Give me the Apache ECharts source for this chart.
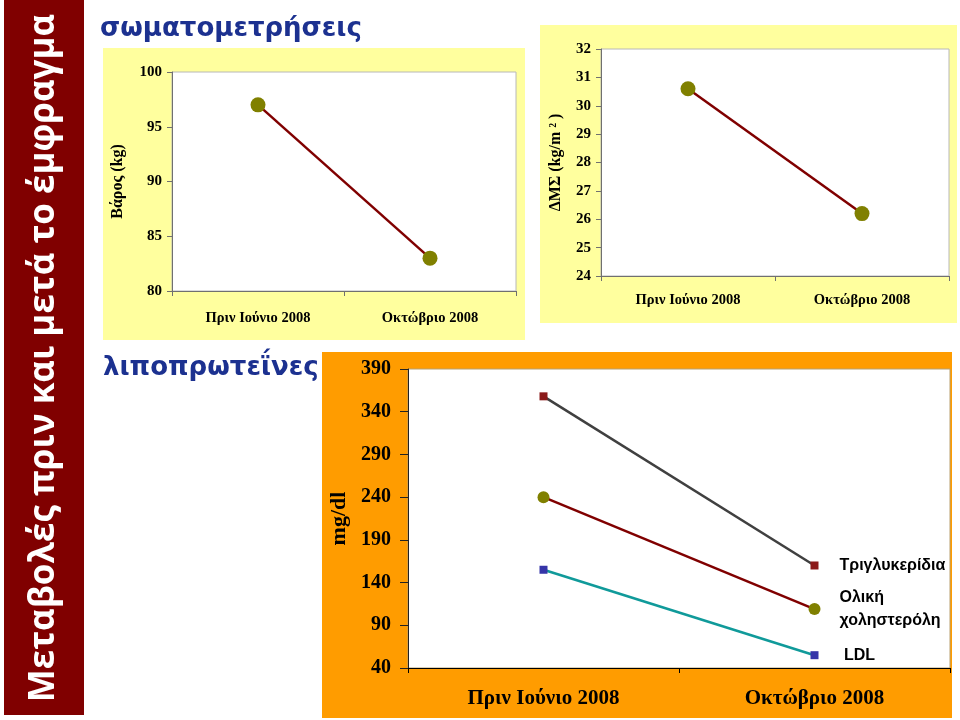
<!DOCTYPE html>
<html><head><meta charset="utf-8">
<script src="https://cdn.jsdelivr.net/npm/echarts@6/dist/echarts.min.js"></script>
<style>html,body{margin:0;padding:0;background:#fff}#c{width:960px;height:720px}</style>
</head><body><div id="c"></div>
<script>
// ---- data ----
const categories = ['Πριν Ιούνιο 2008', 'Οκτώβριο 2008'];
const weight = [97, 83];          // Βάρος (kg)
const bmi = [30.6, 26.2];         // ΔΜΣ (kg/m²)
const triglycerides = [358, 160]; // mg/dl
const totalChol = [240, 109];
const ldl = [155, 55];
const seriesNames = ['Τριγλυκερίδια', 'Ολική\nχοληστερόλη', ' LDL'];

const serif = 'Liberation Serif';
const chart = echarts.init(document.getElementById('c'), null, {renderer: 'canvas'});

function yAx(gi, min, max, interval, name, nameGap, fs, nfs, axisColor, labelMargin, tickLen) {
  return {
    type: 'value', gridIndex: gi, min: min, max: max, interval: interval,
    name: name, nameLocation: 'middle', nameGap: nameGap,
    nameTextStyle: {fontFamily: serif, fontWeight: 'bold', fontSize: nfs, color: '#000'},
    axisLine: {show: true, lineStyle: {color: axisColor, width: 1}},
    axisTick: {show: true, length: tickLen, lineStyle: {color: axisColor}},
    splitLine: {show: false},
    axisLabel: {fontFamily: serif, fontWeight: 'bold', fontSize: fs, color: '#000', margin: labelMargin}
  };
}
function xAx(gi, fs, axisColor, margin) {
  return {
    type: 'category', gridIndex: gi, data: categories, boundaryGap: true,
    axisLine: {show: true, lineStyle: {color: axisColor, width: 1}},
    axisTick: {show: true, length: 5, lineStyle: {color: axisColor}},
    axisLabel: {fontFamily: serif, fontWeight: 'bold', fontSize: fs, color: '#000', margin: margin}
  };
}
const endLbl = (txt, extra) => Object.assign({show: true, formatter: txt, distance: 25, fontFamily: 'Liberation Sans',
  fontWeight: 'bold', fontSize: 16, lineHeight: 23, color: '#000', verticalAlign: 'middle'}, extra || {});

const option = {
  animation: false,
  graphic: [
    {type: 'rect', z: -10, shape: {x: 4, y: 0, width: 80, height: 715}, style: {fill: '#800000'}},
    {type: 'rect', z: -10, shape: {x: 103, y: 48, width: 422, height: 292}, style: {fill: '#FFFF9E'}},
    {type: 'rect', z: -10, shape: {x: 540, y: 25, width: 417, height: 298}, style: {fill: '#FFFF9E'}},
    {type: 'rect', z: -10, shape: {x: 322, y: 352, width: 630, height: 366}, style: {fill: '#FF9C00'}},
    {type: 'text', z: 100, x: 44, y: 358, rotation: Math.PI / 2,
      style: {text: 'Μεταβολές πριν και μετά το έμφραγμα', fill: '#fff', font: 'bold 35px "Open Sans"', textAlign: 'center', textVerticalAlign: 'middle'}},
    {type: 'text', z: 100, x: 100, y: 29,
      style: {text: 'σωματομετρήσεις', fill: '#1c3190', font: 'bold 26px "DejaVu Sans"', textAlign: 'left', textVerticalAlign: 'middle'}},
    {type: 'text', z: 100, x: 103, y: 368,
      style: {text: 'λιποπρωτεΐνες', fill: '#1c3190', font: 'bold 26px "DejaVu Sans"', textAlign: 'left', textVerticalAlign: 'middle'}}
  ],
  grid: [
    {left: 172, top: 72, width: 344, height: 219, show: true, backgroundColor: '#fff', borderColor: '#b8b8b8', borderWidth: 1},
    {left: 601, top: 49, width: 348, height: 227, show: true, backgroundColor: '#fff', borderColor: '#b8b8b8', borderWidth: 1},
    {left: 408, top: 369, width: 542, height: 299, show: true, backgroundColor: '#fff', borderColor: '#b8a070', borderWidth: 1}
  ],
  xAxis: [xAx(0, 14.5, '#707070', 20), xAx(1, 14.5, '#707070', 17), xAx(2, 21, '#000', 20)],
  yAxis: [
    yAx(0, 80, 100, 5, 'Βάρος (kg)', 46, 15, 16, '#707070', 10, 5),
    yAx(1, 24, 32, 1, 'ΔΜΣ (kg/m ² )', 37, 15, 16, '#707070', 10, 5),
    yAx(2, 40, 390, 50, 'mg/dl', 56, 20, 22, '#222', 17, 8)
  ],
  series: [
    {type: 'line', xAxisIndex: 0, yAxisIndex: 0, data: weight, symbol: 'circle', symbolSize: 15,
      lineStyle: {color: '#800000', width: 2.5}, itemStyle: {color: '#808000'}},
    {type: 'line', xAxisIndex: 1, yAxisIndex: 1, data: bmi, symbol: 'circle', symbolSize: 15,
      lineStyle: {color: '#800000', width: 2.5}, itemStyle: {color: '#808000'}},
    {type: 'line', name: seriesNames[0], xAxisIndex: 2, yAxisIndex: 2, data: triglycerides, symbol: 'rect', symbolSize: 8,
      lineStyle: {color: '#404040', width: 2.5}, itemStyle: {color: '#8B1A1A'}, endLabel: endLbl(seriesNames[0])},
    {type: 'line', name: seriesNames[1], xAxisIndex: 2, yAxisIndex: 2, data: totalChol, symbol: 'circle', symbolSize: 12,
      lineStyle: {color: '#800000', width: 2.5}, itemStyle: {color: '#808000'}, endLabel: endLbl(seriesNames[1])},
    {type: 'line', name: seriesNames[2], xAxisIndex: 2, yAxisIndex: 2, data: ldl, symbol: 'rect', symbolSize: 8,
      lineStyle: {color: '#109a9a', width: 2.5}, itemStyle: {color: '#3535a8'}, endLabel: endLbl(seriesNames[2])}
  ]
};
chart.setOption(option);
</script>
</body></html>
